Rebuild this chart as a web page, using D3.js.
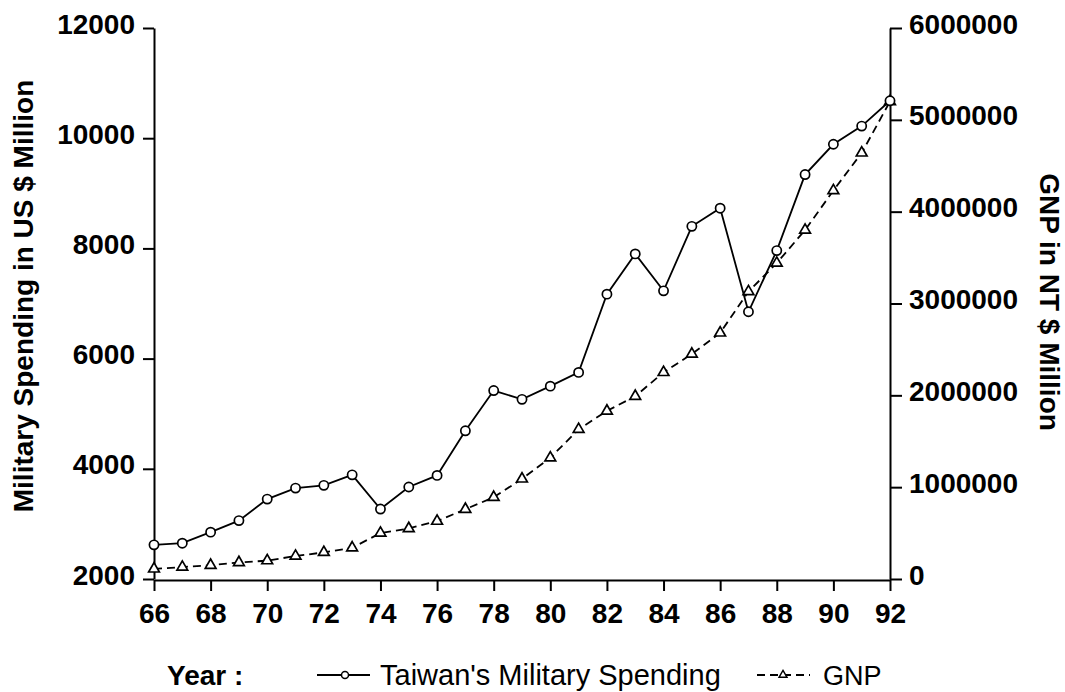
<!DOCTYPE html>
<html>
<head>
<meta charset="utf-8">
<script src="https://cdn.jsdelivr.net/npm/d3@7"></script>
<style>
  body { margin: 0; background: #fff; }
  text { font-family: "Liberation Sans", Arial, sans-serif; fill: #000; }
</style>
</head>
<body>
<div id="chart"></div>
<script>
// years 1966 - 1992 (shown as 66..92)
const years = d3.range(66, 93);
// Taiwan's military spending, US $ million
const military = [2620, 2650, 2850, 3060, 3450, 3650, 3700, 3890, 3270, 3670, 3880, 4690, 5420,
  5260, 5500, 5750, 7170, 7900, 7230, 8400, 8730, 6850, 7960, 9340, 9890, 10220, 10680];
// GNP, NT $ million
const gnp = [110000, 130000, 150000, 180000, 200000, 250000, 290000, 340000, 500000, 550000, 630000,
  760000, 890000, 1090000, 1320000, 1630000, 1830000, 1990000, 2250000, 2450000, 2680000,
  3130000, 3440000, 3800000, 4230000, 4640000, 5200000];
const xTicks = d3.range(66, 93, 2);
const leftTicks = [2000, 4000, 6000, 8000, 10000, 12000];
const rightTicks = [0, 1000000, 2000000, 3000000, 4000000, 5000000, 6000000];

const width = 1065, height = 692;
const margin = {top: 28, right: 175, bottom: 112, left: 154};

const svg = d3.select('#chart').append('svg')
  .attr('width', width)
  .attr('height', height);

const x = d3.scaleLinear().domain([66, 92]).range([margin.left, width - margin.right]);
const yL = d3.scaleLinear().domain([2000, 12000]).range([height - margin.bottom - 1, margin.top]);
const yR = d3.scaleLinear().domain([0, 6000000]).range([height - margin.bottom - 1, margin.top]);

// axes
function xAxis(g) {
  g.attr('transform', `translate(0,${height - margin.bottom})`)
    .call(d3.axisBottom(x).tickValues(xTicks).tickSize(11).tickSizeOuter(0).tickPadding(12))
    .attr('font-size', '28px').attr('font-weight', 'bold');
}
function yAxisL(g) {
  g.attr('class', 'yax').attr('transform', `translate(${margin.left},0)`)
    .call(d3.axisLeft(yL).tickValues(leftTicks).tickSize(11).tickSizeOuter(0).tickPadding(8).tickFormat(d3.format('d')))
    .attr('font-size', '28px').attr('font-weight', 'bold');
}
function yAxisR(g) {
  g.attr('class', 'yax').attr('transform', `translate(${width - margin.right},0)`)
    .call(d3.axisRight(yR).tickValues(rightTicks).tickSize(12).tickSizeOuter(0).tickPadding(7).tickFormat(d3.format('d')))
    .attr('font-size', '28px').attr('font-weight', 'bold');
}
svg.append('g').call(xAxis);
svg.append('g').call(yAxisL);
svg.append('g').call(yAxisR);
svg.selectAll('.domain, .tick line').attr('stroke', '#000').attr('stroke-width', 2);
svg.selectAll('.tick text').attr('font-family', '"Liberation Sans", Arial, sans-serif').attr('fill', '#000');
svg.selectAll('.yax .tick text').attr('dy', '0.18em');

// lines
const lineMil = d3.line().x((d, i) => x(years[i])).y(d => yL(d));
const lineGnp = d3.line().x((d, i) => x(years[i])).y(d => yR(d));

svg.append('path').datum(gnp)
  .attr('d', lineGnp).attr('fill', 'none').attr('stroke', '#000')
  .attr('stroke-width', 1.8).attr('stroke-dasharray', '8,5');
svg.append('path').datum(military)
  .attr('d', lineMil).attr('fill', 'none').attr('stroke', '#000').attr('stroke-width', 1.8);

const tri = d3.symbol().type(d3.symbolTriangle).size(50);
svg.append('g').selectAll('path').data(gnp).join('path')
  .attr('d', tri)
  .attr('transform', (d, i) => `translate(${x(years[i])},${yR(d)})`)
  .attr('fill', '#fff').attr('stroke', '#000').attr('stroke-width', 1.7);

svg.append('g').selectAll('circle').data(military).join('circle')
  .attr('cx', (d, i) => x(years[i]))
  .attr('cy', d => yL(d))
  .attr('r', 4.6)
  .attr('fill', '#fff').attr('stroke', '#000').attr('stroke-width', 1.7);

// axis titles
svg.append('text')
  .attr('transform', 'translate(33,296) rotate(-90)')
  .attr('text-anchor', 'middle')
  .attr('font-size', '28px').attr('font-weight', 'bold')
  .text('Military Spending in US $ Million');
svg.append('text')
  .attr('transform', 'translate(1040,302) rotate(90)')
  .attr('text-anchor', 'middle')
  .attr('font-size', '28px').attr('font-weight', 'bold')
  .text('GNP in NT $ Million');

// legend
const ly = 675;
svg.append('text').attr('x', 167).attr('y', ly + 10)
  .attr('font-size', '28px').attr('font-weight', 'bold').text('Year :');
svg.append('line').attr('x1', 317).attr('x2', 370).attr('y1', ly).attr('y2', ly)
  .attr('stroke', '#000').attr('stroke-width', 1.8);
svg.append('circle').attr('cx', 345).attr('cy', ly).attr('r', 3.5)
  .attr('fill', '#fff').attr('stroke', '#000').attr('stroke-width', 1.5);
svg.append('text').attr('x', 380).attr('y', ly + 10)
  .attr('font-size', '29px').text("Taiwan's Military Spending");
svg.append('line').attr('x1', 757).attr('x2', 810).attr('y1', ly).attr('y2', ly)
  .attr('stroke', '#000').attr('stroke-width', 1.8).attr('stroke-dasharray', '8,5');
svg.append('path').attr('d', d3.symbol().type(d3.symbolTriangle).size(28))
  .attr('transform', `translate(783,${ly})`)
  .attr('fill', '#fff').attr('stroke', '#000').attr('stroke-width', 1.4);
svg.append('text').attr('x', 823).attr('y', ly + 10)
  .attr('font-size', '27px').text('GNP');
</script>
</body>
</html>
